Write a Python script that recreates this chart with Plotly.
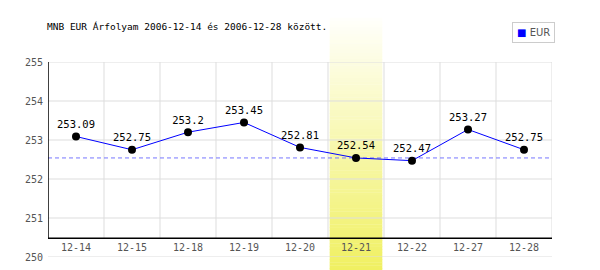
import plotly.graph_objects as go

categories = ["12-14", "12-15", "12-18", "12-19", "12-20", "12-21", "12-22", "12-27", "12-28"]
eur_values = [253.09, 252.75, 253.2, 253.45, 252.81, 252.54, 252.47, 253.27, 252.75]
value_labels = ["253.09", "252.75", "253.2", "253.45", "252.81", "252.54", "252.47", "253.27", "252.75"]
y_ticks = [250, 251, 252, 253, 254, 255]
series_name = "EUR"
highlight_index = 5
reference_level = 252.54
x_axis_level = 250.48

W, H = 600, 270
ML, MR, MT, MB = 48, 48, 62, 13
PW = W - ML - MR
PH = H - MT - MB

MONO = "DejaVu Sans Mono"
GRID = "#dddddd"

fig = go.Figure()

fig.add_trace(go.Scatter(
    x=categories, y=eur_values, mode="lines+markers+text", name=series_name,
    line=dict(color="#0000ff", width=1),
    marker=dict(color="black", size=8),
    text=value_labels, textposition="top center",
    textfont=dict(family=MONO, size=10.5, color="black"),
    showlegend=False, cliponaxis=False,
))

n = len(categories)
shapes = []
# horizontal gridlines
for t in y_ticks:
    shapes.append(dict(type="line", xref="x", yref="y", x0=-0.5, x1=n - 0.5, y0=t, y1=t,
                       line=dict(color=GRID, width=1), layer="below"))
# vertical gridlines
for i in range(n):
    shapes.append(dict(type="line", xref="x", yref="y", x0=i + 0.5, x1=i + 0.5, y0=x_axis_level, y1=y_ticks[-1],
                       line=dict(color=GRID, width=1), layer="below"))
# dashed reference line (under the band)
shapes.append(dict(type="line", xref="x", yref="y", x0=-0.5, x1=n - 0.5, y0=reference_level, y1=reference_level,
                   line=dict(color="#7777ff", width=1, dash="4px,3px"), layer="below"))
# gradient band
band_top = 1.0 + (MT - 18) / PH
band_bot = -MB / PH - 0.01
N = 80
c_top = (255, 255, 252)
c_bot = (240, 240, 96)
for k in range(N):
    f0 = k / N
    f1 = (k + 1) / N
    fm = (f0 + f1) / 2
    col = tuple(round(c_top[j] + (c_bot[j] - c_top[j]) * fm) for j in range(3))
    y_hi = band_top - (band_top - band_bot) * f0
    y_lo = band_top - (band_top - band_bot) * f1
    shapes.append(dict(type="rect", xref="x", yref="paper",
                       x0=highlight_index - 0.47, x1=highlight_index + 0.47,
                       y0=y_lo - 0.001, y1=y_hi + 0.001,
                       fillcolor="rgb(%d,%d,%d)" % col, line=dict(width=0), layer="below"))
# axis lines
shapes.append(dict(type="line", xref="x", yref="y", x0=-0.5, x1=n - 0.5, y0=x_axis_level, y1=x_axis_level,
                   line=dict(color="black", width=1.5), layer="below"))
shapes.append(dict(type="line", xref="x", yref="y", x0=-0.5, x1=-0.5, y0=x_axis_level, y1=y_ticks[-1],
                   line=dict(color="black", width=1.5), layer="below"))

fig.update_layout(
    width=W, height=H,
    margin=dict(l=ML, r=MR, t=MT, b=MB, autoexpand=False),
    paper_bgcolor="white", plot_bgcolor="rgba(0,0,0,0)",
    shapes=shapes,
    title=dict(text="MNB EUR Árfolyam 2006-12-14 és 2006-12-28 között.",
               x=47 / W, xanchor="left", xref="container",
               y=1 - 27 / H, yanchor="middle", yref="container",
               font=dict(family=MONO, size=9.5, color="black")),
    xaxis=dict(type="category", range=[-0.5, n - 0.5], showgrid=False, zeroline=False,
               showline=False, anchor="free", automargin=False,
               position=(x_axis_level - y_ticks[0]) / (y_ticks[-1] - y_ticks[0]),
               ticks="", ticklabelstandoff=2,
               tickfont=dict(family=MONO, size=10, color="#555555"), fixedrange=True),
    yaxis=dict(range=[y_ticks[0], y_ticks[-1]], tickvals=y_ticks, showgrid=False, zeroline=False,
               showline=False, ticks="", ticklabelstandoff=4, automargin=False,
               tickfont=dict(family=MONO, size=10, color="#555555")),
    annotations=[dict(
        text="<span style='color:#0000ff'>■</span> " + series_name,
        xref="paper", yref="paper",
        x=(512 - ML) / PW, y=1 + (MT - 22) / PH, xanchor="left", yanchor="top",
        showarrow=False, align="left",
        font=dict(family="DejaVu Sans", size=10, color="#555555"),
        bordercolor="#cccccc", borderwidth=1, borderpad=4, bgcolor="white",
    )],
    showlegend=False,
)

fig.write_html("out.html")
